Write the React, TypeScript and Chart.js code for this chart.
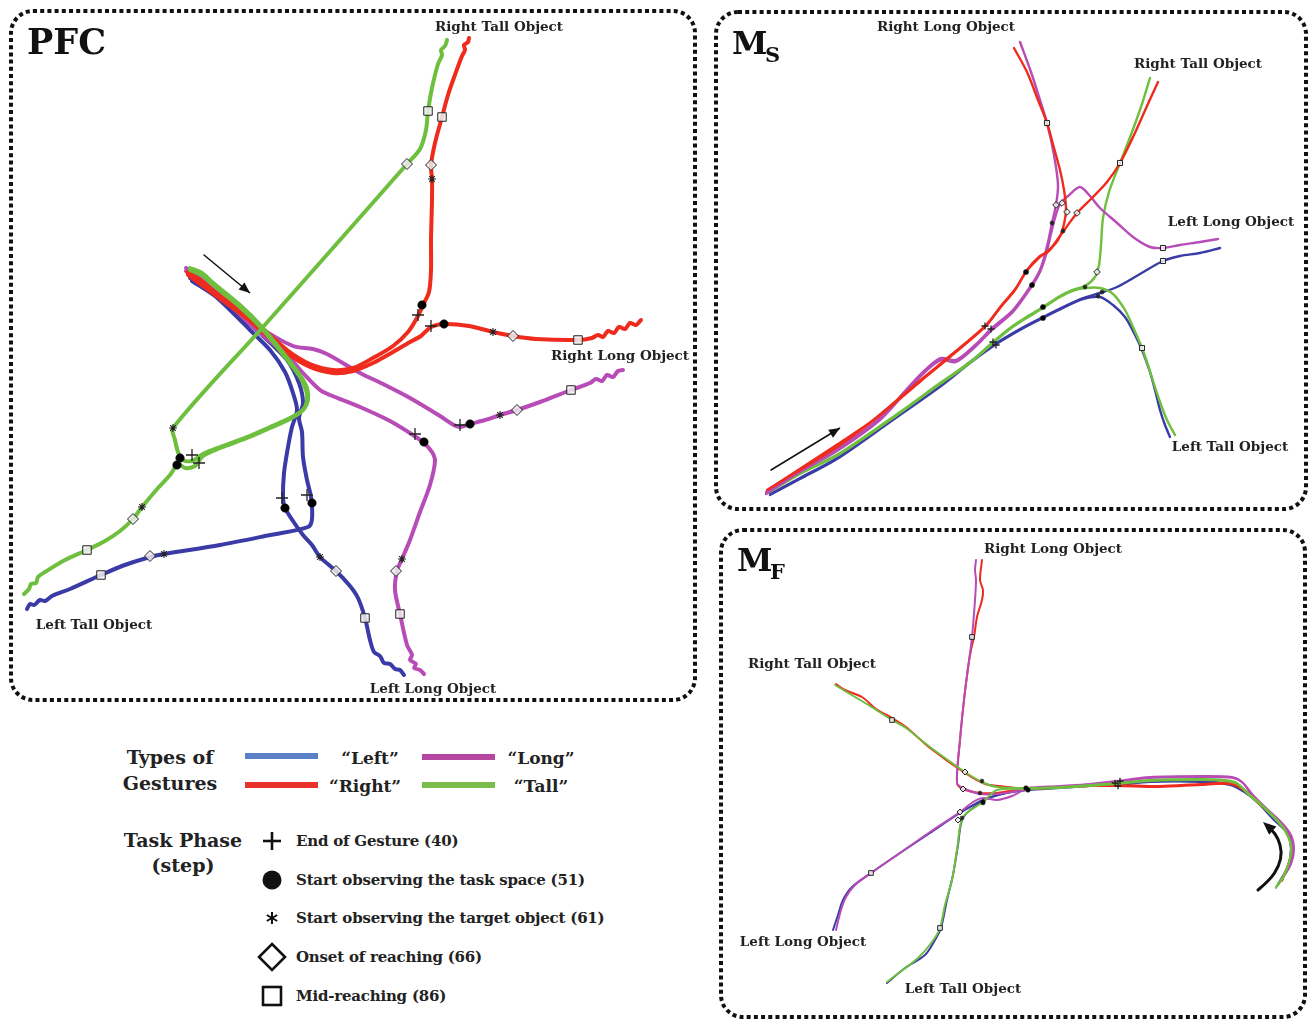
import React, { useEffect, useRef } from "react";
import { Chart, registerables } from "chart.js";
Chart.register(...registerables);

type P = [number, number];

const FONT = "'DejaVu Serif', 'Liberation Serif', serif";

// ---------- colours ----------
const BLUE = "#3b3ba8";
const RED = "#ef2b1d";
const MAGENTA = "#b84cb6";
const GREEN = "#6fbf3e";

// ---------- PFC trajectories ----------
const pfcLeftToLong: P[] = [[190,278],[205,287],[230,310],[250,330],[270,350],[285,372],[293,393],[297,410],[292,427],[288,447],[284,473],[283,498],[285,508],[293,521],[303,535],[312,545],[320,557],[336,571],[350,586],[358,598],[365,618],[370,640],[374,652],[380,656],[384,663],[390,664],[395,669],[400,670],[404,675]];
const pfcLeftToTall: P[] = [[192,281],[215,296],[240,316],[262,335],[287,360],[299,383],[303,403],[299,418],[302,432],[303,457],[307,480],[311,497],[312,519],[308,527],[270,535],[220,545],[164,554],[150,557],[122,566],[101,575],[70,589],[52,596],[45,601],[40,600],[34,605],[30,604],[27,609]];
const pfcRightToTall: P[] = [[187,272],[200,280],[215,292],[250,318],[287,350],[310,364],[333,370],[353,368],[373,358],[393,346],[408,332],[418,316],[423,305],[429,292],[431,270],[431,240],[432,200],[432,179],[431,165],[435,143],[442,117],[448,95],[456,72],[462,56],[465,50],[464,45],[468,42],[469,38]];
const pfcRightToLong: P[] = [[188,275],[215,295],[250,321],[287,353],[310,367],[333,373],[353,371],[373,363],[393,352],[410,342],[421,336],[431,327],[444,324],[469,326],[493,332],[513,336],[536,339],[578,340],[592,338],[598,335],[603,337],[608,331],[614,333],[619,327],[625,329],[630,323],[636,325],[641,320]];
const pfcLongToRight: P[] = [[186,268],[200,276],[218,290],[240,307],[260,327],[293,346],[313,349],[327,354],[360,373],[385,385],[410,398],[440,416],[452,424],[460,427],[470,424],[485,420],[500,415],[517,410],[540,402],[571,390],[590,383],[596,379],[602,381],[607,375],[613,377],[618,371],[623,370]];
const pfcLongToLeft: P[] = [[186,271],[205,283],[230,305],[260,333],[287,355],[303,373],[320,390],[330,395],[360,407],[390,421],[413,435],[424,443],[432,452],[435,461],[430,485],[420,512],[410,540],[402,559],[397,571],[395,590],[400,614],[407,645],[412,655],[410,660],[416,664],[414,668],[420,670],[424,674]];
const pfcTallToRight: P[] = [[190,268],[202,273],[212,282],[240,305],[263,328],[285,355],[300,375],[307,388],[308,400],[303,410],[290,418],[270,427],[247,437],[220,447],[203,454],[192,461],[183,460],[178,452],[175,440],[173,428],[263,327],[340,240],[407,164],[420,149],[426,130],[428,111],[432,88],[438,64],[442,55],[441,50],[445,46],[447,40]];
const pfcTallToLeft: P[] = [[190,270],[203,276],[213,285],[240,307],[263,330],[285,357],[300,377],[306,390],[307,401],[302,411],[290,419],[270,428],[247,438],[220,448],[203,456],[195,466],[185,468],[178,464],[170,475],[158,488],[142,507],[133,519],[120,531],[105,541],[87,550],[65,560],[45,572],[38,577],[36,583],[31,584],[29,589],[24,594]];

// PFC task-phase markers
const pfcEndGesture: P[] = [[418,315],[431,326],[192,455],[199,463],[460,425],[415,434],[282,498],[307,495]];
const pfcObsTask: P[] = [[422,305],[444,324],[180,458],[177,465],[470,424],[424,442],[285,508],[312,503]];
const pfcObsTarget: P[] = [[432,179],[493,332],[173,428],[142,507],[500,415],[402,559],[320,557],[164,554]];
const pfcOnset: P[] = [[431,165],[513,336],[407,164],[133,519],[517,410],[396,571],[336,571],[150,556]];
const pfcMid: P[] = [[442,117],[578,340],[428,111],[87,550],[571,390],[400,614],[365,618],[101,575]];

// ---------- MS trajectories ----------
const msRightToLong: P[] = [[767,490],[790,476],[837,447],[870,423],[902,397],[922,380],[950,357],[985,327],[1000,308],[1015,290],[1026,272],[1040,257],[1050,249],[1058,240],[1063,228],[1066,210],[1064,190],[1060,170],[1054,148],[1047,123],[1038,100],[1027,72],[1014,48]];
const msRightToTall: P[] = [[769,489],[792,474],[838,444],[872,421],[903,395],[923,378],[951,355],[986,325],[1001,306],[1016,288],[1027,270],[1040,256],[1048,252],[1060,236],[1077,213],[1092,198],[1107,182],[1120,163],[1134,135],[1147,106],[1158,82]];
const msLongToRight: P[] = [[766,492],[800,470],[837,449],[880,418],[905,391],[925,370],[941,358],[956,360],[975,345],[992,328],[1013,310],[1032,284],[1039,272],[1044,258],[1048,242],[1052,223],[1056,205],[1058,185],[1054,155],[1047,123],[1040,100],[1031,72],[1020,42]];
const msLongToLeft: P[] = [[766,494],[800,472],[837,451],[880,420],[905,393],[925,372],[941,360],[956,362],[975,347],[992,330],[1013,312],[1032,286],[1040,272],[1046,255],[1050,238],[1055,218],[1060,204],[1068,196],[1080,187],[1090,196],[1100,208],[1116,222],[1133,237],[1150,247],[1163,248],[1180,245],[1200,242],[1218,239]];
const msTallToRight: P[] = [[768,492],[800,473],[840,453],[900,412],[940,383],[970,362],[993,342],[1010,328],[1025,318],[1043,307],[1060,296],[1072,290],[1085,286],[1095,277],[1099,265],[1101,245],[1103,218],[1109,192],[1120,163],[1132,132],[1142,104],[1150,78]];
const msTallToLeft: P[] = [[768,493],[800,474],[840,454],[900,413],[940,384],[970,363],[993,343],[1010,329],[1025,319],[1043,308],[1060,297],[1072,291],[1085,288],[1100,288],[1113,294],[1125,310],[1133,327],[1142,348],[1148,365],[1153,381],[1160,402],[1167,420],[1175,435]];
const msLeftToLong: P[] = [[770,494],[800,478],[837,458],[890,421],[941,385],[970,362],[995,344],[1020,329],[1043,317],[1065,306],[1083,298],[1100,293],[1117,287],[1140,274],[1163,261],[1180,256],[1200,253],[1220,248]];
const msLeftToTall: P[] = [[770,495],[800,479],[837,459],[890,422],[941,386],[970,363],[995,345],[1020,330],[1043,318],[1065,307],[1083,299],[1100,297],[1113,305],[1125,317],[1133,331],[1142,350],[1150,372],[1155,390],[1160,410],[1165,425],[1170,437]];

const msEndGesture: P[] = [[985,326],[991,329],[993,342],[996,345]];
const msObsTask: P[] = [[1026,272],[1032,285],[1043,307],[1043,318]];
const msObsTarget: P[] = [[1052,223],[1063,231],[1085,287],[1102,292],[1098,296]];
const msOnset: P[] = [[1056,205],[1062,203],[1067,212],[1077,213],[1097,272]];
const msMid: P[] = [[1047,123],[1120,163],[1163,248],[1163,261],[1142,348]];

// ---------- MF trajectories ----------
const mfRightToLong: P[] = [[1282,880],[1289,862],[1292,848],[1287,830],[1275,817],[1258,802],[1245,790],[1230,783],[1200,784],[1160,786],[1117,785],[1090,786],[1060,787],[1027,789],[1010,791],[997,793],[980,793],[963,789],[957,783],[960,740],[964,700],[968,668],[971,650],[974,637],[977,617],[982,600],[983,590],[980,580],[982,560]];
const mfRightToTall: P[] = [[1282,881],[1289,863],[1292,849],[1287,831],[1275,818],[1258,803],[1245,791],[1230,784],[1200,785],[1160,787],[1117,786],[1090,786],[1060,787],[1027,789],[1000,786],[985,784],[965,773],[930,748],[906,727],[892,718],[876,709],[862,697],[845,690],[836,684]];
const mfLongToRight: P[] = [[1280,882],[1290,865],[1293,850],[1290,835],[1280,822],[1265,808],[1252,795],[1242,782],[1232,777],[1200,776],[1150,777],[1117,781],[1090,784],[1060,786],[1027,788],[1012,792],[997,794],[980,794],[963,788],[957,783],[960,740],[964,700],[968,668],[972,637],[975,600],[976,580],[975,570],[976,560]];
const mfLongToLeft: P[] = [[1281,881],[1291,864],[1294,850],[1291,835],[1281,822],[1266,808],[1253,795],[1243,783],[1233,778],[1200,777],[1150,778],[1117,782],[1090,785],[1060,787],[1027,789],[1012,796],[997,800],[983,798],[973,802],[960,812],[930,832],[900,853],[871,873],[855,885],[846,897],[841,910],[836,930]];
const mfLeftToLong: P[] = [[1278,884],[1288,866],[1291,848],[1287,832],[1273,818],[1258,802],[1244,791],[1230,784],[1200,781],[1150,781],[1117,784],[1090,785],[1060,787],[1027,790],[1007,793],[983,800],[960,813],[930,833],[900,853],[871,873],[852,887],[843,900],[838,915],[833,930]];
const mfLeftToTall: P[] = [[1278,885],[1288,867],[1291,849],[1287,833],[1273,819],[1258,803],[1244,792],[1230,785],[1200,782],[1150,782],[1117,785],[1090,786],[1060,788],[1027,790],[1005,793],[983,801],[963,818],[958,845],[953,875],[947,900],[941,928],[935,940],[925,955],[905,968],[887,983]];
const mfTallToRight: P[] = [[1276,887],[1284,875],[1290,858],[1291,845],[1285,830],[1277,820],[1262,805],[1250,795],[1237,783],[1225,780],[1200,779],[1150,780],[1117,783],[1090,785],[1060,787],[1027,788],[997,787],[982,782],[965,772],[930,747],[906,728],[892,720],[870,706],[850,694],[835,685]];
const mfTallToLeft: P[] = [[1276,888],[1284,876],[1290,859],[1291,846],[1285,831],[1277,821],[1262,806],[1250,796],[1237,784],[1225,781],[1200,780],[1150,781],[1117,784],[1090,786],[1060,788],[1027,789],[997,790],[983,802],[963,817],[957,850],[952,880],[945,905],[940,928],[932,942],[918,958],[900,972],[887,982]];

const mfEndGesture: P[] = [[1115,783],[1118,786],[1120,781]];
const mfObsTask: P[] = [[1026,788],[1028,790],[983,802]];
const mfObsTarget: P[] = [[982,781],[980,793],[983,803],[962,818]];
const mfOnset: P[] = [[965,772],[963,789],[960,812],[958,820]];
const mfMid: P[] = [[972,637],[892,720],[871,873],[940,928]];

// ---------- annotations ----------
const pfcArrow: P[] = [[204,255],[250,293]];
const msArrow: P[] = [[771,470],[840,428]];
const mfArrow: P[] = [[1258,890],[1270,880],[1279,866],[1282,852],[1278,838],[1272,830],[1263,822]];

const pfcLabels: [string, number, number][] = [["Right Tall Object",499,27],["Right Long Object",620,356],["Left Tall Object",94,625],["Left Long Object",433,689]];
const msLabels: [string, number, number][] = [["Right Long Object",946,27],["Right Tall Object",1198,64],["Left Long Object",1231,222],["Left Tall Object",1230,447]];
const mfLabels: [string, number, number][] = [["Right Long Object",1053,549],["Right Tall Object",812,664],["Left Long Object",803,942],["Left Tall Object",963,989]];

const gestureLabels = ["“Left”", "“Right”", "“Long”", "“Tall”"];
const gestureColors = ["#5b80c8", "#e8332a", "#b5469f", "#7bbd4a"];
const phaseLabels = ["End of Gesture (40)", "Start observing the task space (51)", "Start observing the target object (61)", "Onset of reaching (66)", "Mid-reaching (86)"];

type Cfg = {
  left: number; top: number; w: number; h: number;
  lw: number; mk: number;
  lines: { pts: P[]; color: string; order: number }[];
  markers: P[][];
  labels: [string, number, number][];
  title: { t: string; x: number; y: number; size: number }[];
  box: [number, number, number, number];
  arrow: P[]; arrowW: number; arrowHead: number; arrowCurve: boolean;
};

function roundRectPath(ctx: CanvasRenderingContext2D, x: number, y: number, w: number, h: number, r: number) {
  ctx.beginPath();
  ctx.moveTo(x + r, y);
  ctx.lineTo(x + w - r, y);
  ctx.arcTo(x + w, y, x + w, y + r, r);
  ctx.lineTo(x + w, y + h - r);
  ctx.arcTo(x + w, y + h, x + w - r, y + h, r);
  ctx.lineTo(x + r, y + h);
  ctx.arcTo(x, y + h, x, y + h - r, r);
  ctx.lineTo(x, y + r);
  ctx.arcTo(x, y, x + r, y, r);
  ctx.closePath();
}

function makeDecor(cfg: Cfg) {
  return {
    id: "decor",
    afterDraw(chart: any) {
      const ctx: CanvasRenderingContext2D = chart.ctx;
      const xs = chart.scales.x, ys = chart.scales.y;
      const px = (v: number) => xs.getPixelForValue(v);
      const py = (v: number) => ys.getPixelForValue(v);
      ctx.save();
      // dotted frame
      const [bx0, by0, bx1, by1] = cfg.box;
      ctx.setLineDash([4, 3.2]);
      ctx.lineWidth = 4;
      ctx.strokeStyle = "#111";
      roundRectPath(ctx, px(bx0), py(by0), px(bx1) - px(bx0), py(by1) - py(by0), 22);
      ctx.stroke();
      ctx.setLineDash([]);
      // title
      ctx.fillStyle = "#111";
      ctx.textBaseline = "alphabetic";
      ctx.textAlign = "left";
      for (const t of cfg.title) {
        ctx.font = `bold ${t.size}px ${FONT}`;
        ctx.fillText(t.t, px(t.x), py(t.y));
      }
      // object labels
      ctx.font = `bold 13.5px ${FONT}`;
      ctx.textAlign = "center";
      ctx.textBaseline = "middle";
      ctx.fillStyle = "#222";
      for (const [s, x, y] of cfg.labels) ctx.fillText(s, px(x), py(y));
      // arrow
      const a = cfg.arrow.map(([x, y]) => [px(x), py(y)]);
      ctx.strokeStyle = "#111";
      ctx.fillStyle = "#111";
      ctx.lineWidth = cfg.arrowW;
      ctx.lineCap = "round";
      ctx.beginPath();
      ctx.moveTo(a[0][0], a[0][1]);
      if (cfg.arrowCurve && a.length > 2) {
        for (let i = 1; i < a.length - 1; i++) {
          const mx = (a[i][0] + a[i + 1][0]) / 2, my = (a[i][1] + a[i + 1][1]) / 2;
          ctx.quadraticCurveTo(a[i][0], a[i][1], mx, my);
        }
      } else {
        for (let i = 1; i < a.length; i++) ctx.lineTo(a[i][0], a[i][1]);
      }
      const e = a[a.length - 1], p = a[a.length - 2];
      const ang = Math.atan2(e[1] - p[1], e[0] - p[0]);
      const hl = cfg.arrowHead;
      const bxp = e[0] - Math.cos(ang) * hl * 0.8, byp = e[1] - Math.sin(ang) * hl * 0.8;
      ctx.lineTo(bxp, byp);
      ctx.stroke();
      ctx.beginPath();
      ctx.moveTo(e[0], e[1]);
      ctx.lineTo(e[0] - hl * Math.cos(ang) + hl * 0.42 * Math.sin(ang), e[1] - hl * Math.sin(ang) - hl * 0.42 * Math.cos(ang));
      ctx.lineTo(e[0] - hl * Math.cos(ang) - hl * 0.42 * Math.sin(ang), e[1] - hl * Math.sin(ang) + hl * 0.42 * Math.cos(ang));
      ctx.closePath();
      ctx.fill();
      ctx.restore();
    },
  };
}

function Panel({ cfg }: { cfg: Cfg }) {
  const ref = useRef<HTMLCanvasElement>(null);
  useEffect(() => {
    const m = cfg.mk;
    const toXY = (pts: P[]) => pts.map(([x, y]) => ({ x, y }));
    const lineSets = cfg.lines.map((l) => ({
      data: toXY(l.pts),
      showLine: true,
      borderColor: l.color,
      backgroundColor: l.color,
      borderWidth: cfg.lw,
      pointRadius: 0,
      tension: 0.3,
      borderCapStyle: "round",
      borderJoinStyle: "round",
      order: l.order,
    }));
    const styles = [
      { pointStyle: "cross", pointRadius: 6 * m, borderWidth: 1.3, backgroundColor: "#111" },
      { pointStyle: "circle", pointRadius: 4.3 * m, borderWidth: 0.5, backgroundColor: "#000" },
      { pointStyle: "star", pointRadius: 4 * m, borderWidth: 1.1, backgroundColor: "#111" },
      { pointStyle: "rectRot", pointRadius: 5.5 * m, borderWidth: 1, backgroundColor: "rgba(235,235,235,0.85)" },
      { pointStyle: "rect", pointRadius: 6 * m, borderWidth: 1, backgroundColor: "rgba(240,240,240,0.85)" },
    ];
    const markerSets = cfg.markers.map((pts, i) => ({
      data: toXY(pts),
      showLine: false,
      borderColor: "#222",
      order: 0,
      ...styles[i],
    }));
    const chart = new Chart(ref.current as HTMLCanvasElement, {
      type: "scatter",
      data: { datasets: [...markerSets, ...lineSets] as any },
      options: {
        animation: false,
        responsive: false,
        maintainAspectRatio: false,
        events: [],
        layout: { padding: 0, autoPadding: false },
        plugins: { legend: { display: false }, tooltip: { enabled: false }, title: { display: false } },
        scales: {
          x: { type: "linear", display: false, min: cfg.left, max: cfg.left + cfg.w },
          y: { type: "linear", display: false, min: cfg.top, max: cfg.top + cfg.h, reverse: true },
        },
      } as any,
      plugins: [makeDecor(cfg)],
    });
    return () => chart.destroy();
  }, []);
  return (
    <canvas
      ref={ref}
      width={cfg.w}
      height={cfg.h}
      style={{ position: "absolute", left: cfg.left, top: cfg.top, width: cfg.w, height: cfg.h }}
    />
  );
}

const pfcCfg: Cfg = {
  left: 0, top: 0, w: 706, h: 712, lw: 4, mk: 1,
  lines: [
    { pts: pfcLeftToLong, color: BLUE, order: 4 },
    { pts: pfcLeftToTall, color: BLUE, order: 4 },
    { pts: pfcLongToRight, color: MAGENTA, order: 3 },
    { pts: pfcLongToLeft, color: MAGENTA, order: 3 },
    { pts: pfcRightToTall, color: RED, order: 2 },
    { pts: pfcRightToLong, color: RED, order: 2 },
    { pts: pfcTallToRight, color: GREEN, order: 1 },
    { pts: pfcTallToLeft, color: GREEN, order: 1 },
  ],
  markers: [pfcEndGesture, pfcObsTask, pfcObsTarget, pfcOnset, pfcMid],
  labels: pfcLabels,
  title: [{ t: "PFC", x: 27, y: 54, size: 35 }],
  box: [11, 11, 695, 700],
  arrow: pfcArrow, arrowW: 1.5, arrowHead: 11, arrowCurve: false,
};

const msCfg: Cfg = {
  left: 708, top: 0, w: 606, h: 518, lw: 2.4, mk: 0.6,
  lines: [
    { pts: msLeftToLong, color: BLUE, order: 4 },
    { pts: msLeftToTall, color: BLUE, order: 4 },
    { pts: msTallToRight, color: GREEN, order: 3 },
    { pts: msTallToLeft, color: GREEN, order: 3 },
    { pts: msLongToRight, color: MAGENTA, order: 2 },
    { pts: msLongToLeft, color: MAGENTA, order: 2 },
    { pts: msRightToLong, color: RED, order: 1 },
    { pts: msRightToTall, color: RED, order: 1 },
  ],
  markers: [msEndGesture, msObsTask, msObsTarget, msOnset, msMid],
  labels: msLabels,
  title: [{ t: "M", x: 732, y: 54, size: 32 }, { t: "S", x: 765, y: 62, size: 21 }],
  box: [716, 12, 1306, 509],
  arrow: msArrow, arrowW: 1.5, arrowHead: 11, arrowCurve: false,
};

const mfCfg: Cfg = {
  left: 712, top: 520, w: 602, h: 503, lw: 2, mk: 0.55,
  lines: [
    { pts: mfLeftToLong, color: BLUE, order: 4 },
    { pts: mfLeftToTall, color: BLUE, order: 4 },
    { pts: mfRightToLong, color: RED, order: 3 },
    { pts: mfRightToTall, color: RED, order: 3 },
    { pts: mfLongToRight, color: MAGENTA, order: 2 },
    { pts: mfLongToLeft, color: MAGENTA, order: 2 },
    { pts: mfTallToRight, color: GREEN, order: 1 },
    { pts: mfTallToLeft, color: GREEN, order: 1 },
  ],
  markers: [mfEndGesture, mfObsTask, mfObsTarget, mfOnset, mfMid],
  labels: mfLabels,
  title: [{ t: "M", x: 737, y: 571, size: 32 }, { t: "F", x: 770, y: 579, size: 21 }],
  box: [721, 530, 1305, 1017],
  arrow: mfArrow, arrowW: 3, arrowHead: 13, arrowCurve: true,
};

function Txt({ x, y, children, size, align = "left", w = 400, ls = 0 }: any) {
  const lh = 24;
  const left = align === "center" ? x - w / 2 : x;
  return (
    <div
      style={{
        position: "absolute", left, top: y - lh / 2, width: w, height: lh, lineHeight: `${lh}px`,
        fontFamily: FONT, fontWeight: "bold", fontSize: size, color: "#222", textAlign: align, whiteSpace: "nowrap",
        letterSpacing: ls,
      }}
    >
      {children}
    </div>
  );
}

function Legend() {
  const swatches = [[245, 756], [245, 785], [422, 757], [422, 785]];
  const labelPos = [[370, 758], [365, 786], [541, 758], [541, 786]];
  const rows = [841, 880, 918, 957, 996];
  return (
    <>
      <Txt x={170} y={757} size={19} align="center" w={200}>Types of</Txt>
      <Txt x={170} y={783} size={19} align="center" w={200}>Gestures</Txt>
      <svg style={{ position: "absolute", left: 0, top: 730, overflow: "visible" }} width={620} height={290}>
        {swatches.map(([x, y], i) => (
          <rect key={i} x={x} y={y - 730 - 3} width={73} height={6} fill={gestureColors[i]} />
        ))}
        <g stroke="#111" strokeWidth={2.6} fill="none">
          <line x1={263} y1={841 - 730} x2={281} y2={841 - 730} />
          <line x1={272} y1={832 - 730} x2={272} y2={850 - 730} />
        </g>
        <circle cx={272} cy={880 - 730} r={9.5} fill="#111" />
        <g stroke="#111" strokeWidth={2} fill="none">
          <line x1={272} y1={912 - 730} x2={272} y2={924 - 730} />
          <line x1={266.8} y1={915 - 730} x2={277.2} y2={921 - 730} />
          <line x1={266.8} y1={921 - 730} x2={277.2} y2={915 - 730} />
        </g>
        <polygon points={`272,${944 - 730} 285,${957 - 730} 272,${970 - 730} 259,${957 - 730}`} fill="#fff" stroke="#111" strokeWidth={2.6} />
        <rect x={263} y={987 - 730} width={18} height={18} fill="#fff" stroke="#111" strokeWidth={2.6} />
      </svg>
      {gestureLabels.map((s, i) => (
        <Txt key={s} x={labelPos[i][0]} y={labelPos[i][1]} size={17} align="center" w={120}>{s}</Txt>
      ))}
      <Txt x={183} y={840} size={19} align="center" w={200}>Task Phase</Txt>
      <Txt x={183} y={865} size={19} align="center" w={200}>(step)</Txt>
      {phaseLabels.map((s, i) => (
        <Txt key={s} x={296} y={rows[i]} size={15} ls={-0.2}>{s}</Txt>
      ))}
    </>
  );
}

export default function App() {
  return (
    <div style={{ position: "absolute", left: 0, top: 0, width: 1314, height: 1023, background: "#fff", overflow: "hidden" }}>
      <Panel cfg={pfcCfg} />
      <Panel cfg={msCfg} />
      <Panel cfg={mfCfg} />
      <Legend />
    </div>
  );
}
